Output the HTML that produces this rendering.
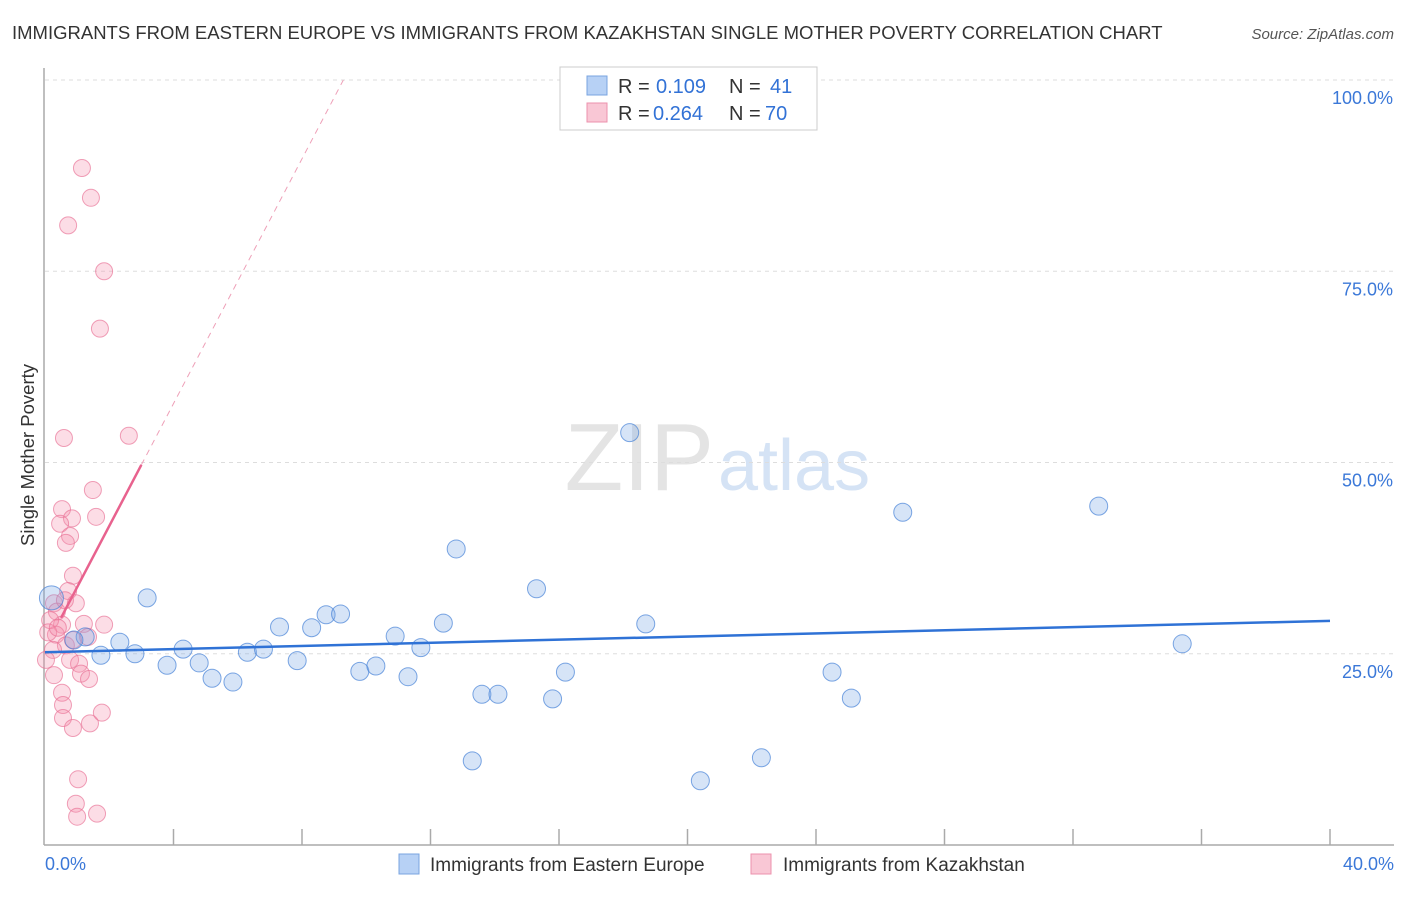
<!DOCTYPE html>
<html><head><meta charset="utf-8"><style>
body{margin:0;background:#fff;font-family:"Liberation Sans",sans-serif;}
svg text{font-family:"Liberation Sans",sans-serif;}
</style></head><body>
<svg id="chart" width="1406" height="892" xmlns="http://www.w3.org/2000/svg">
<text x="12" y="39" font-size="18.5" fill="#333">IMMIGRANTS FROM EASTERN EUROPE VS IMMIGRANTS FROM KAZAKHSTAN SINGLE MOTHER POVERTY CORRELATION CHART</text>
<text x="1394" y="39" font-size="15" fill="#555" text-anchor="end" font-style="italic">Source: ZipAtlas.com</text>
<text x="0" y="0" transform="translate(34,455) rotate(-90)" font-size="18.5" fill="#333" text-anchor="middle">Single Mother Poverty</text>
<text x="714" y="490" font-size="96" fill="#e4e4e4" text-anchor="end" font-family="Liberation Serif">ZIP</text>
<text x="718" y="490" font-size="72" fill="#d5e3f5">atlas</text>
<g id="grid"></g>
<g id="axes"></g>
<g id="pts"></g>
<g id="trend"></g>
<g>
<rect x="560" y="67" width="257" height="63" fill="#fff" stroke="#ccc"/>
<rect x="587" y="76" width="20" height="19" fill="#b7d1f5" stroke="#7aa4e0"/>
<rect x="587" y="103" width="20" height="19" fill="#f9c7d5" stroke="#ec92ad"/>
<text x="618" y="93" font-size="20" fill="#333">R =</text>
<text x="656" y="93" font-size="20" fill="#3272d6">0.109</text>
<text x="729" y="93" font-size="20" fill="#333">N =</text>
<text x="770" y="93" font-size="20" fill="#3272d6">41</text>
<text x="618" y="120" font-size="20" fill="#333">R =</text>
<text x="653" y="120" font-size="20" fill="#3272d6">0.264</text>
<text x="729" y="120" font-size="20" fill="#333">N =</text>
<text x="765" y="120" font-size="20" fill="#3272d6">70</text>
</g>
<g>
<rect x="399" y="854" width="20" height="20" fill="#b7d1f5" stroke="#7aa4e0"/>
<text x="430" y="871" font-size="19" fill="#333">Immigrants from Eastern Europe</text>
<rect x="751" y="854" width="20" height="20" fill="#f9c7d5" stroke="#ec92ad"/>
<text x="783" y="871" font-size="19" fill="#333">Immigrants from Kazakhstan</text>
</g>
</svg>
<script>
const yTicks=[25,50,75,100];
const yTickLabels=["25.0%","50.0%","75.0%","100.0%"];
const xTickLabels=["0.0%","40.0%"];
const blueX=[3.18,2.33,1.74,2.8,1.25,3.8,4.3,4.8,5.2,5.85,6.3,6.8,7.3,7.85,8.3,8.75,9.2,9.8,10.3,10.9,11.3,11.7,12.4,12.8,13.6,14.1,13.3,15.3,15.8,16.2,18.2,18.7,20.4,22.3,24.5,25.1,26.7,32.8,35.4,0.2,0.9];
const blueY=[32.3,26.5,24.8,25.0,27.2,23.5,25.6,23.8,21.8,21.3,25.2,25.6,28.5,24.1,28.4,30.1,30.2,22.7,23.4,27.3,22.0,25.8,29.0,38.7,19.7,19.7,11.0,33.5,19.1,22.6,53.9,28.9,8.4,11.4,22.6,19.2,43.5,44.3,26.3,32.3,26.8];
const pinkX=[1.15,1.43,0.72,1.84,1.71,0.59,2.61,1.49,1.59,0.53,0.84,0.47,0.78,0.65,0.87,0.72,0.96,1.84,1.21,0.28,0.37,0.53,0.34,0.65,0.25,0.78,1.06,0.28,1.12,1.37,0.53,0.56,0.56,0.87,1.4,1.77,1.03,0.96,1.0,1.62,0.16,0.1,0.4,0.03,0.62,1.34,0.87];
const pinkY=[88.5,84.6,81.0,75.0,67.5,53.2,53.5,46.4,42.9,43.9,42.7,42.0,40.4,39.5,35.2,33.2,31.6,28.8,28.9,31.6,30.5,28.8,27.5,26.1,25.5,24.2,23.7,22.2,22.4,21.7,19.9,18.3,16.6,15.3,15.9,17.3,8.6,5.4,3.7,4.1,29.4,27.8,28.4,24.2,32.0,27.2,26.8];
const blueTrend=[25.2,29.3];
const pinkTrend=[25.7,49.7];
const pinkSolidEnd=3.0;
const X=v=>45+v*32.125, Y=v=>845-v*7.65;
const NS="http://www.w3.org/2000/svg";
function mk(tag,attrs,parent){const e=document.createElementNS(NS,tag);for(const k in attrs)e.setAttribute(k,attrs[k]);document.getElementById(parent).appendChild(e);return e;}
yTicks.forEach((t,i)=>{
 const l=mk('line',{x1:45,x2:1394,y1:Y(t),y2:Y(t),stroke:'#ddd','stroke-dasharray':'4,4'},'grid');
 
 
 const tx=mk('text',{x:1393,y:Y(t)+24,'font-size':18,fill:'#3b78d8','text-anchor':'end'},'grid');
 tx.textContent=yTickLabels[i];
 
 
});
const ax=mk('line',{x1:44,x2:44,y1:68,y2:845,stroke:'#aaa','stroke-width':1.5},'axes');


const bx=mk('line',{x1:44,x2:1394,y1:845,y2:845,stroke:'#aaa','stroke-width':1.5},'axes');


for(let i=1;i<=10;i++){const t=mk('line',{x1:X(i*4),x2:X(i*4),y1:829,y2:845,stroke:'#aaa','stroke-width':1.5},'axes');
 
 }
[[0,'start',45],[40,'end',1394]].forEach((d,i)=>{const t=mk('text',{x:d[2],y:870,'font-size':18,fill:'#3b78d8','text-anchor':d[1]},'axes');t.textContent=xTickLabels[i];
 
 });
pinkX.forEach((v,i)=>{const c=mk('circle',{cx:X(v),cy:Y(pinkY[i]),r:8.5,fill:'rgba(244,143,172,0.3)',stroke:'rgba(232,110,148,0.65)'},'pts');
 
 });
blueX.forEach((v,i)=>{const c=mk('circle',{cx:X(v),cy:Y(blueY[i]),r:(i==39?12:9),fill:'rgba(120,165,230,0.3)',stroke:'rgba(70,130,215,0.7)'},'pts');
 
 });
const bt=mk('line',{x1:X(0),y1:Y(blueTrend[0]),x2:X(40),y2:Y(blueTrend[1]),stroke:'#2f72d6','stroke-width':2.5},'trend');


const slope=(pinkTrend[1]-pinkTrend[0])/pinkSolidEnd;
const pt=mk('line',{x1:X(0.5),y1:Y(pinkTrend[0]+slope*0.5),x2:X(pinkSolidEnd),y2:Y(pinkTrend[1]),stroke:'#e8628e','stroke-width':2.5},'trend');


const xe=(100-pinkTrend[0])/slope;
const pd=mk('line',{x1:X(pinkSolidEnd),y1:Y(pinkTrend[1]),x2:X(xe),y2:Y(100),stroke:'#eea0b8','stroke-width':1,'stroke-dasharray':'6,5'},'trend');


</script>
</body></html>
